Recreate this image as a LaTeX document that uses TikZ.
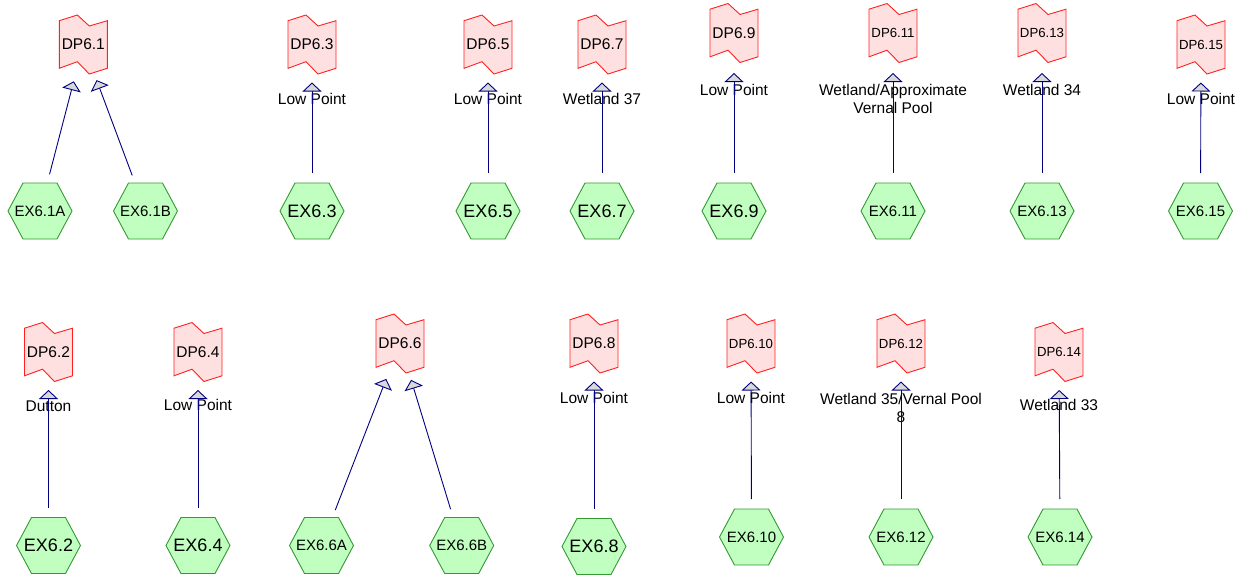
\documentclass[tikz,border=0pt]{standalone}
\usepackage{fontspec}
\setmainfont{Liberation Sans}
\usetikzlibrary{arrows.meta}
\definecolor{dpfill}{HTML}{FFE0E0}
\definecolor{dpline}{HTML}{FF2020}
\definecolor{exfill}{HTML}{C0FFC0}
\definecolor{exline}{HTML}{339933}
\definecolor{connline}{HTML}{000080}
\definecolor{tipfill}{HTML}{D9D9D9}
\tikzset{
 dpbox/.style={draw=dpline, fill=dpfill, line width=0.9pt, line join=miter},
 dptext/.style={inner sep=0pt, minimum width=48pt, minimum height=59pt},
 dpbig/.style={font=\fontsize{15.5}{18}\selectfont},
 dpsmall/.style={font=\fontsize{13.2}{16}\selectfont},
 exbox/.style={draw=exline, fill=exfill, line width=0.9pt, line join=miter},
 extext/.style={inner sep=0pt, minimum width=64pt, minimum height=56pt},
 exbig/.style={font=\fontsize{18}{20}\selectfont},
 exsmall/.style={font=\fontsize{15}{18}\selectfont},
 lbl/.style={anchor=base, inner sep=0pt, font=\fontsize{15.5}{18}\selectfont, align=center},
 conn/.style={draw=connline, line width=0.9pt, shorten <=38pt, shorten >=38pt, -{Triangle[width=19pt,length=9pt,fill=tipfill]}},
}
% name, x, y, style, text
\newcommand\dpnode[5]{%
  \begin{scope}[shift={(#2,#3)}]
    \draw[dpbox] (-24,-23.8) -- (-6,-29.5) -- (6,-18.5) -- (24,-23.8) -- (24,23.8) -- (6,29.5) -- (-6,17.2) -- (-24,23.8) -- cycle;
    \node[dptext,#4] (#1) at (0,0) {#5};
  \end{scope}}
\newcommand\exnode[5]{%
  \begin{scope}[shift={(#2,#3)}]
    \draw[exbox] (-32,0) -- (-17,-28) -- (17,-28) -- (32,0) -- (17,28) -- (-17,28) -- cycle;
    \node[extext,#4] (#1) at (0,0) {#5};
  \end{scope}}
\begin{document}
\begin{tikzpicture}[x=1pt,y=-1pt]
\useasboundingbox (0,0) rectangle (1247,576);
% top row DP
\dpnode{dp1}{83.3}{44.5}{dpbig}{DP6.1}
\dpnode{dp3}{312}{44.5}{dpbig}{DP6.3}
\dpnode{dp5}{488}{44.5}{dpbig}{DP6.5}
\dpnode{dp7}{602}{44.5}{dpbig}{DP6.7}
\dpnode{dp9}{734}{33}{dpbig}{DP6.9}
\dpnode{dp11}{893}{33}{dpsmall}{DP6.11}
\dpnode{dp13}{1042}{33}{dpsmall}{DP6.13}
\dpnode{dp15}{1201}{44.5}{dpsmall}{DP6.15}
% bottom row DP
\dpnode{dp2}{48.5}{352}{dpbig}{DP6.2}
\dpnode{dp4}{198}{352}{dpbig}{DP6.4}
\dpnode{dp6}{400}{343.5}{dpbig}{DP6.6}
\dpnode{dp8}{594}{343.5}{dpbig}{DP6.8}
\dpnode{dp10}{751}{343.5}{dpsmall}{DP6.10}
\dpnode{dp12}{901}{343.5}{dpsmall}{DP6.12}
\dpnode{dp14}{1059}{352}{dpsmall}{DP6.14}
% top row EX
\exnode{ex1a}{40}{211}{exsmall}{EX6.1A}
\exnode{ex1b}{145.5}{211}{exsmall}{EX6.1B}
\exnode{ex3}{312}{211}{exbig}{EX6.3}
\exnode{ex5}{488}{211}{exbig}{EX6.5}
\exnode{ex7}{602}{211}{exbig}{EX6.7}
\exnode{ex9}{734}{211}{exbig}{EX6.9}
\exnode{ex11}{893}{211}{exsmall}{EX6.11}
\exnode{ex13}{1042}{211}{exsmall}{EX6.13}
\exnode{ex15}{1200.5}{211}{exsmall}{EX6.15}
% bottom row EX
\exnode{ex2}{48.5}{545.5}{exbig}{EX6.2}
\exnode{ex4}{198}{545.5}{exbig}{EX6.4}
\exnode{ex6a}{321.5}{545.5}{exsmall}{EX6.6A}
\exnode{ex6b}{461.7}{545.5}{exsmall}{EX6.6B}
\exnode{ex8}{594}{546.5}{exbig}{EX6.8}
\exnode{ex10}{751.5}{537}{exsmall}{EX6.10}
\exnode{ex12}{901}{537}{exsmall}{EX6.12}
\exnode{ex14}{1060}{537}{exsmall}{EX6.14}
% labels
\node[lbl] (l3) at (312,104) {Low Point};
\node[lbl] (l5) at (488,104) {Low Point};
\node[lbl] (l7) at (602,104) {Wetland 37};
\node[lbl] (l9) at (734,95) {Low Point};
\node[lbl] (l11) at (893,113.3) {Wetland/Approximate\\Vernal Pool};
\node[lbl] (l13) at (1042,95) {Wetland 34};
\node[lbl] (l15) at (1201,104) {Low Point};
\node[lbl] (l2) at (48.5,411) {Dutton};
\node[lbl] (l4) at (198,410.7) {Low Point};
\node[lbl] (l8) at (594,403.3) {Low Point};
\node[lbl] (l10) at (751,403.3) {Low Point};
\node[lbl] (l12) at (901,422.3) {Wetland 35/Vernal Pool\\8};
\node[lbl] (l14) at (1059,410.7) {Wetland 33};
% connectors
\draw[conn] (ex1a.center) -- (dp1.center);
\draw[conn] (ex1b.center) -- (dp1.center);
\draw[conn] (ex3.center) -- (dp3.center);
\draw[conn] (ex5.center) -- (dp5.center);
\draw[conn] (ex7.center) -- (dp7.center);
\draw[conn, shorten >=40pt] (ex9.center) -- (dp9.center);
\draw[conn, shorten >=40pt] (ex11.center) -- (dp11.center);
\draw[conn, shorten >=40pt] (ex13.center) -- (dp13.center);
\draw[conn] (ex15.center) -- (dp15.center);
\draw[conn] (ex2.center) -- (dp2.center);
\draw[conn] (ex4.center) -- (dp4.center);
\draw[conn] (ex6a.center) -- (dp6.center);
\draw[conn] (ex6b.center) -- (dp6.center);
\draw[conn] (ex8.center) -- (dp8.center);
\draw[conn] (ex10.center) -- (dp10.center);
\draw[conn] (ex12.center) -- (dp12.center);
\draw[conn] (ex14.center) -- (dp14.center);
\end{tikzpicture}
\end{document}
